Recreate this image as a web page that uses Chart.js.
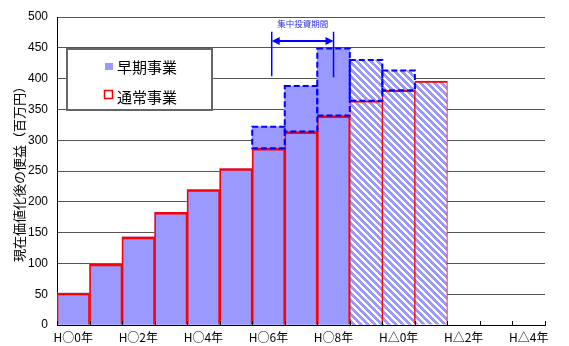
<!DOCTYPE html>
<html lang="ja">
<head>
<meta charset="UTF-8">
<title>現在価値化後の便益</title>
<script src="https://cdn.jsdelivr.net/npm/chart.js"></script>
<style>
    html, body { margin: 0; padding: 0; background: #fff; }
    .chart-container { position: relative; width: 569px; height: 346px; }
</style>
</head>
<body>
<div class="chart-container"><canvas id="benefitChart"></canvas></div>
<script>
const years = ['H○0年', 'H○1年', 'H○2年', 'H○3年', 'H○4年', 'H○5年', 'H○6年', 'H○7年',
               'H○8年', 'H○9年', 'H△0年', 'H△1年', 'H△2年', 'H△3年', 'H△4年'];
const earlyValues  = [52, 99, 143, 183, 220, 254, 322, 388, 449, 430, 413, null, null, null, null];
const normalValues = [52, 99, 143, 183, 220, 254, 287, 314, 340, 364, 381, 396, null, null, null];
const yMin = 0, yMax = 500, yStep = 50;
const forecastFrom = 9;            // 斜線 = 予測年
const focusRange = [6.1, 8];       // 集中投資期間
const focusLabel = '集中投資期間';
const yTitle = '現在価値化後の便益（百万円）';

const FONT = "'Liberation Sans', 'Noto Sans CJK JP', sans-serif";
const CJK = "'Noto Sans CJK JP', sans-serif";
const BLUE = '#9999ff';

// 斜線パターン
function makeHatch() {
    const n = 7;
    const c = document.createElement('canvas');
    c.width = n; c.height = n;
    const g = c.getContext('2d');
    const img = g.createImageData(n, n);
    for (let py = 0; py < n; py++) {
        for (let px = 0; px < n; px++) {
            const k = (py * n + px) * 4;
            const on = ((px - py) % n + n) % n < 4;
            img.data[k] = on ? 0x99 : 255;
            img.data[k + 1] = on ? 0x99 : 255;
            img.data[k + 2] = 255;
            img.data[k + 3] = 255;
        }
    }
    g.putImageData(img, 0, 0);
    return g.createPattern(c, 'repeat');
}

const canvas = document.getElementById('benefitChart');
const hatch = makeHatch();

const earlyFill = years.map((_, i) => i >= forecastFrom ? hatch : BLUE);
const normalFill = years.map((_, i) => i >= forecastFrom ? hatch : 'rgba(0,0,0,0)');

const overlayPlugin = {
    id: 'overlay',
    afterDatasetsDraw(chart) {
        const { ctx, scales: { x, y }, chartArea } = chart;
        const earlyMeta = chart.getDatasetMeta(0);
        ctx.save();

        // x軸の内向き目盛
        ctx.strokeStyle = '#000';
        ctx.lineWidth = 1;
        ctx.beginPath();
        for (let i = 0; i <= years.length; i++) {
            const px = Math.round(x.getPixelForValue(i - 0.5)) + 0.5;
            ctx.moveTo(px, chartArea.bottom);
            ctx.lineTo(px, chartArea.bottom - 4);
        }
        ctx.stroke();

        // 増分の点線枠
        ctx.strokeStyle = '#0000ff';
        ctx.lineWidth = 2;
        ctx.setLineDash([6, 3]);
        earlyValues.forEach((v, i) => {
            const n = normalValues[i];
            if (v == null || n == null || v <= n) return;
            const bar = earlyMeta.data[i];
            const top = y.getPixelForValue(v);
            const bottom = y.getPixelForValue(n);
            ctx.strokeRect(bar.x - bar.width / 2, top, bar.width, bottom - top);
        });
        ctx.setLineDash([]);

        // 集中投資期間の矢印
        const x1 = x.getPixelForValue(focusRange[0]);
        const x2 = x.getPixelForValue(focusRange[1]);
        const yTop = y.getPixelForValue(476);
        const yBot = y.getPixelForValue(404);
        const yArrow = y.getPixelForValue(461);
        ctx.strokeStyle = '#0000ff';
        ctx.fillStyle = '#0000ff';
        ctx.lineWidth = 1.5;
        ctx.beginPath();
        ctx.moveTo(x1, yTop); ctx.lineTo(x1, yBot);
        ctx.moveTo(x2, yTop); ctx.lineTo(x2, yBot + 1);
        ctx.stroke();
        ctx.lineWidth = 2;
        ctx.beginPath();
        ctx.moveTo(x1 + 6, yArrow); ctx.lineTo(x2 - 6, yArrow);
        ctx.stroke();
        ctx.beginPath();
        ctx.moveTo(x1, yArrow); ctx.lineTo(x1 + 8, yArrow - 4); ctx.lineTo(x1 + 8, yArrow + 4); ctx.closePath();
        ctx.moveTo(x2, yArrow); ctx.lineTo(x2 - 8, yArrow - 4); ctx.lineTo(x2 - 8, yArrow + 4); ctx.closePath();
        ctx.fill();
        ctx.fillStyle = '#2a2aee';
        ctx.font = "8.5px " + CJK;
        ctx.textAlign = 'center';
        ctx.textBaseline = 'middle';
        ctx.fillText(focusLabel, (x1 + x2) / 2, y.getPixelForValue(489));

        // 凡例
        const lx = chartArea.left + 10, ly = chartArea.top + 32;
        ctx.fillStyle = '#fff';
        ctx.fillRect(lx, ly, 145, 61);
        ctx.strokeStyle = '#666';
        ctx.lineWidth = 2;
        ctx.strokeRect(lx, ly, 145, 61);
        const ds = chart.data.datasets;
        ctx.fillStyle = BLUE;
        ctx.fillRect(lx + 38, ly + 14, 8, 7);
        ctx.fillStyle = '#fff';
        ctx.fillRect(lx + 37.5, ly + 41.5, 8, 8);
        ctx.strokeStyle = '#ff0000';
        ctx.lineWidth = 1.5;
        ctx.strokeRect(lx + 37.5, ly + 41.5, 8, 8);
        ctx.fillStyle = '#000';
        ctx.font = "15px " + CJK;
        ctx.textAlign = 'left';
        ctx.fillText(ds[0].label, lx + 50, ly + 18);
        ctx.fillText(ds[1].label, lx + 50, ly + 48);
        ctx.restore();
    }
};

new Chart(canvas, {
    type: 'bar',
    data: {
        labels: years,
        datasets: [
            {
                label: '早期事業',
                data: earlyValues,
                backgroundColor: earlyFill,
                borderWidth: 0,
                order: 2
            },
            {
                label: '通常事業',
                data: normalValues,
                backgroundColor: normalFill,
                borderColor: '#ff0000',
                borderWidth: { top: 2, left: 1, right: 1, bottom: 0 },
                order: 1
            }
        ]
    },
    options: {
        responsive: true,
        maintainAspectRatio: false,
        animation: false,
        datasets: { bar: { grouped: false, barPercentage: 1, categoryPercentage: 1 } },
        layout: { padding: { top: 17, right: 24, left: 0, bottom: 0 } },
        plugins: {
            legend: { display: false },
            tooltip: { enabled: false }
        },
        scales: {
            x: {
                afterFit: (s) => { s.height = 21; },
                grid: { display: false, drawTicks: false },
                border: { color: '#000', width: 1 },
                ticks: {
                    autoSkip: false,
                    maxRotation: 0,
                    padding: 5,
                    color: '#000',
                    font: { family: CJK, size: 12 },
                    callback: (v, i) => i % 2 === 0 ? years[i] : ''
                }
            },
            y: {
                min: yMin,
                max: yMax,
                afterFit: (s) => { s.width = 57; },
                grid: { color: '#555', lineWidth: 1, tickLength: 0 },
                border: { color: '#000', width: 1 },
                ticks: {
                    stepSize: yStep,
                    padding: 9,
                    color: '#000',
                    font: { family: FONT, size: 12 }
                },
                title: {
                    display: true,
                    text: yTitle,
                    color: '#000',
                    padding: { top: 11, bottom: 0 },
                    font: { family: CJK, size: 13 }
                }
            }
        }
    },
    plugins: [overlayPlugin]
});
</script>
</body>
</html>
